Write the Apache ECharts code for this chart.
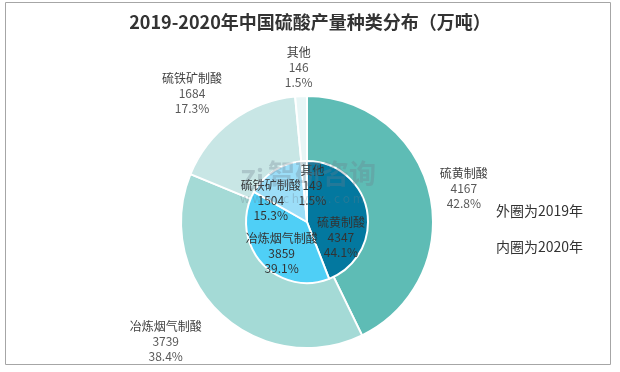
<!DOCTYPE html>
<html><head><meta charset="utf-8">
<script src="https://cdn.jsdelivr.net/npm/echarts@6/dist/echarts.min.js"></script>
<style>html,body{margin:0;padding:0;background:#fff}#c{width:620px;height:372px}</style>
</head><body><div id="c"></div>
<script>
const categories = ['硫黄制酸', '冶炼烟气制酸', '硫铁矿制酸', '其他'];
const values2019 = [4167, 3739, 1684, 146];
const values2020 = [4347, 3859, 1504, 149];
const titleText = '2019-2020年中国硫酸产量种类分布（万吨）';
const noteOuter = '外圈为2019年';
const noteInner = '内圈为2020年';

const outerColors = ['#5EBCB5', '#A4DAD6', '#C8E6E5', '#E8F6F6'];
const innerColors = ['#03789F', '#4FCFF6', '#9CDEF8', '#E0F5FC'];
const outerNudge = [[-6, 3], [-11, -14], [-7, 10], [4, 0]];
const outerLen = [36, 57, 47, 29];
const innerNudge = [[1, 22], [0, 10], [-18, 7], [7, -3]];

const chart = echarts.init(document.getElementById('c'), null, {renderer: 'canvas'});
const font = '"Noto Sans CJK SC", "Noto Sans", sans-serif';
const rich = {
  n: {fontSize: 12, color: '#404040', lineHeight: 15, align: 'center', fontFamily: font},
  v: {fontSize: 12, color: '#595959', lineHeight: 15, align: 'center', fontFamily: font}
};
chart.setOption({
  backgroundColor: '#fff',
  animation: false,
  title: {
    text: titleText, left: 'center', top: 8,
    textStyle: {fontSize: 18, fontWeight: 'bold', color: '#333', fontFamily: font}
  },
  graphic: [
    {type: 'rect', shape: {x: 5.5, y: 2.5, width: 605, height: 362}, style: {fill: 'none', stroke: '#A6A6A6', lineWidth: 1}, silent: true, z: -10},
    {type: 'text', left: 496, top: 204, style: {text: noteOuter, fontSize: 14, fill: '#333', fontFamily: font}},
    {type: 'text', left: 496, top: 240, style: {text: noteInner, fontSize: 14, fill: '#333', fontFamily: font}},
    {type: 'text', left: 268, top: 160, z: 100, style: {text: '智研咨询', fontSize: 27, fontWeight: 'bold', fill: 'rgba(110,125,140,0.3)', fontFamily: font}},
    {type: 'text', left: 240, top: 166, z: 100, style: {text: 'Zi', fontSize: 26, fontWeight: 'bold', fill: 'rgba(110,125,140,0.3)', fontFamily: font}},
    {type: 'text', left: 240, top: 192, z: 100, style: {text: 'w w w . c h y x x . c o m', fontSize: 12, fill: 'rgba(110,125,140,0.3)', fontFamily: font}}
  ],
  series: [
    {
      type: 'pie', name: '2019', center: [307, 222], radius: [59, 126],
      startAngle: 90, clockwise: true, avoidLabelOverlap: false,
      itemStyle: {borderColor: '#fff', borderWidth: 2},
      label: {
        show: true, position: 'outside',
        formatter: p => '{n|' + p.name + '}\n{v|' + p.value + '}\n{v|' + p.percent.toFixed(1) + '%}',
        rich: rich
      },
      labelLine: {show: false, length: 30, length2: 0},
      labelLayout: p => ({align: 'center', dx: outerNudge[p.dataIndex][0], dy: outerNudge[p.dataIndex][1]}),
      data: categories.map((c, i) => ({
        name: c, value: values2019[i],
        itemStyle: {color: outerColors[i]},
        labelLine: {show: false, length: outerLen[i], length2: 0}
      }))
    },
    {
      type: 'pie', name: '2020', center: [307, 222], radius: [0, 61],
      startAngle: 90, clockwise: true, avoidLabelOverlap: false,
      itemStyle: {borderColor: '#fff', borderWidth: 2},
      label: {
        show: true, position: 'inside',
        formatter: p => '{n|' + p.name + '}\n{v|' + p.value + '}\n{v|' + p.percent.toFixed(1) + '%}',
        rich: {
          n: {fontSize: 12, color: '#333', lineHeight: 15, align: 'center', fontFamily: font},
          v: {fontSize: 12, color: '#333', lineHeight: 15, align: 'center', fontFamily: font}
        }
      },
      labelLayout: p => ({dx: innerNudge[p.dataIndex][0], dy: innerNudge[p.dataIndex][1]}),
      data: categories.map((c, i) => ({name: c, value: values2020[i], itemStyle: {color: innerColors[i]}}))
    }
  ]
});
</script></body></html>
